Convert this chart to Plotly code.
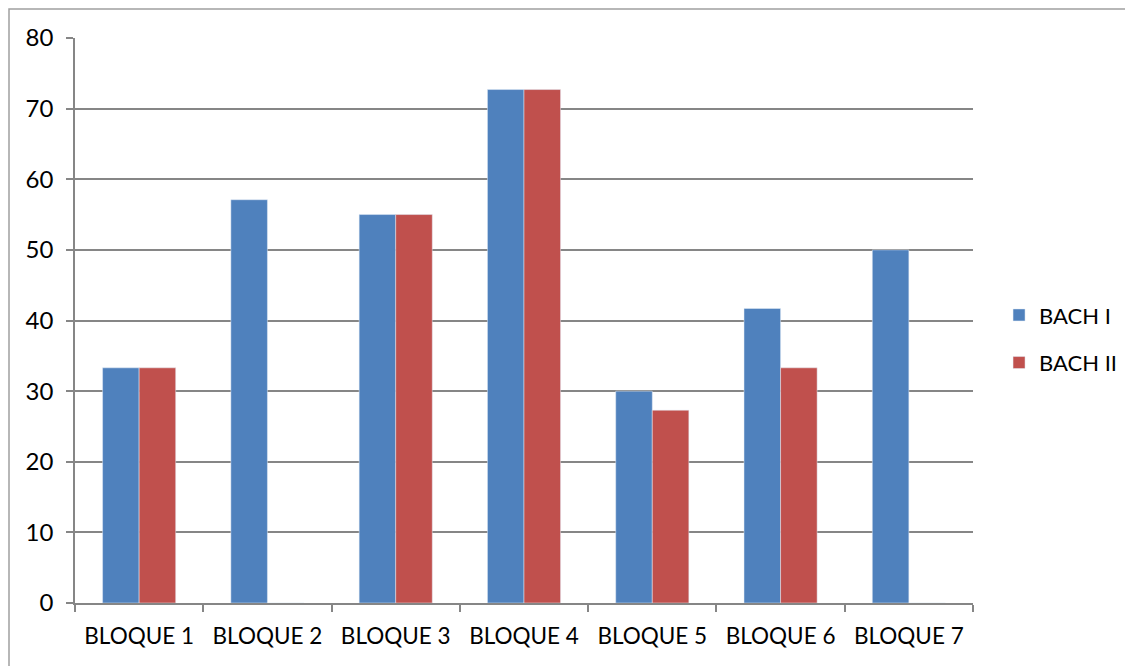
import plotly.graph_objects as go

categories = ["BLOQUE 1", "BLOQUE 2", "BLOQUE 3", "BLOQUE 4", "BLOQUE 5", "BLOQUE 6", "BLOQUE 7"]
bach_i = [33.3, 57.1, 55.0, 72.7, 30.0, 41.7, 50.0]
bach_ii = [33.3, 0, 55.0, 72.7, 27.3, 33.3, 0]
y_ticks = [0, 10, 20, 30, 40, 50, 60, 70, 80]

font_family = "Lato, Open Sans, sans-serif"

# page body has an 8px margin, so the figure is 8px smaller and margins shifted
W, H = 1125, 658
L, R, T, B = 67, 160, 30, 63
plot_w = W - L - R
plot_h = H - T - B

fig = go.Figure()
fig.add_trace(go.Bar(name="BACH I", x=categories, y=bach_i, marker_color="#4F81BD",
                     legendgroup="a"))
fig.add_trace(go.Bar(name="BACH II", x=categories, y=bach_ii, marker_color="#C0504D",
                     legendgroup="b"))

fig.update_layout(
    width=W, height=H,
    margin=dict(l=L, r=R, t=T, b=B, autoexpand=False),
    paper_bgcolor="white", plot_bgcolor="white",
    barmode="group", bargap=0.43, bargroupgap=0,
    font=dict(family=font_family, size=22, color="#000000"),
    legend=dict(x=1.029, y=0.467, xanchor="left", yanchor="middle",
                font=dict(size=22), tracegroupgap=16, traceorder="grouped",
                itemwidth=30),
    xaxis=dict(showline=True, linecolor="#868686", linewidth=1.5,
               ticks="outside", tickson="boundaries", ticklen=7, tickcolor="#868686",
               tickwidth=1.5, showgrid=False, tickfont=dict(size=22.5),
               ticklabelstandoff=12, automargin=False),
    yaxis=dict(range=[0, 80], tickvals=y_ticks, showline=True, linecolor="#868686",
               linewidth=1.5, ticks="outside", ticklen=7, tickcolor="#868686",
               tickwidth=1.5, showgrid=True, gridcolor="#868686", gridwidth=1.5,
               zeroline=False, tickfont=dict(size=24), ticklabelstandoff=8,
               automargin=False),
    shapes=[dict(type="rect", xref="paper", yref="paper",
                 x0=(1 - L) / plot_w, x1=1.3, y0=-0.3, y1=(plot_h + T - 1) / plot_h,
                 line=dict(color="#A0A0A0", width=1.5), fillcolor="rgba(0,0,0,0)",
                 layer="below")],
)

fig.write_html("out.html")
